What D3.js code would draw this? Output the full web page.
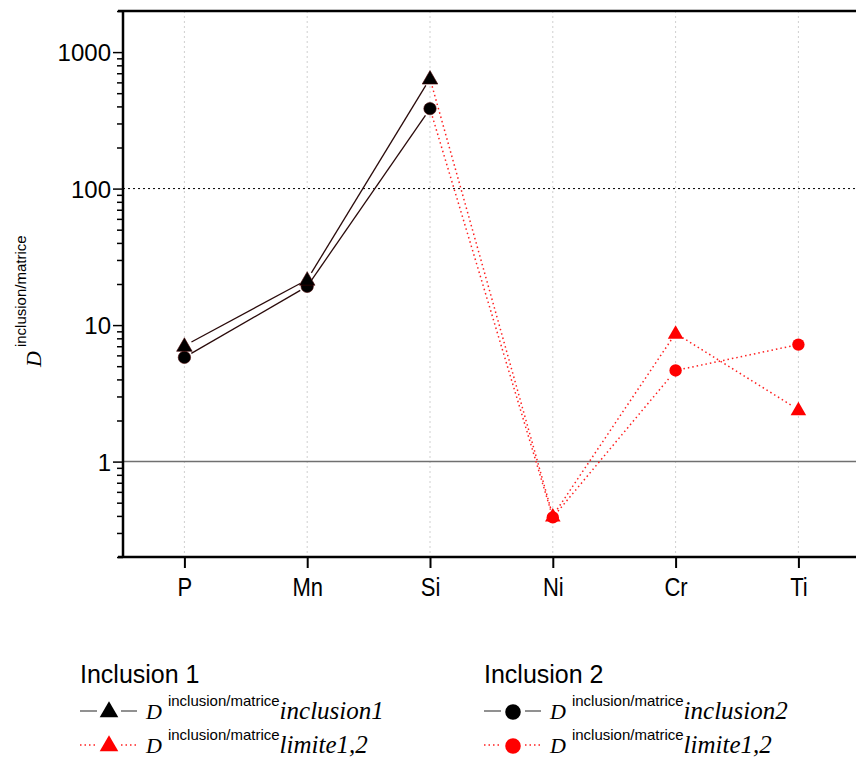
<!DOCTYPE html>
<html><head><meta charset="utf-8">
<script src="https://cdn.jsdelivr.net/npm/d3@7"></script>
<style>body{margin:0;background:#fff}svg{display:block}</style>
</head><body>
<script>
const categories = ["P","Mn","Si","Ni","Cr","Ti"];
const inclusion1 = [7.05, 21.5, 640, 0.40, 8.7, 2.4];
const inclusion2 = [5.8, 19.2, 385, 0.39, 4.65, 7.2];
const measuredCount = 3; // P, Mn, Si measured; Si..Ti limits
const yTicks = [1, 10, 100, 1000];
const yDomain = [0.2, 2000];

(function(){
const W = 856, H = 760;
const svg = d3.select("body").append("svg").attr("width", W).attr("height", H);
const left = 123, topY = 11, bottom = 557;
const step = 122.8;
const x = d3.scalePoint().domain(categories).range([left + step/2, left + step*5.5]);
const y = d3.scaleLog().domain(yDomain).range([bottom, topY]);
const SANS = "Liberation Sans, Arial, sans-serif", SERIF = "Liberation Serif, Times New Roman, serif";

// vertical grid
svg.append("g").selectAll("line").data(categories).join("line")
  .attr("x1", d => x(d)).attr("x2", d => x(d)).attr("y1", topY).attr("y2", bottom)
  .attr("stroke", "#cfcfcf").attr("stroke-width", 1).attr("stroke-dasharray", "2,3");

// reference lines
svg.append("line").attr("x1", left).attr("x2", W).attr("y1", y(100)).attr("y2", y(100))
  .attr("stroke", "#000").attr("stroke-width", 1).attr("stroke-dasharray", "2,3");
svg.append("line").attr("x1", left).attr("x2", W).attr("y1", y(1)).attr("y2", y(1))
  .attr("stroke", "#707070").attr("stroke-width", 1.5);

// axes
const minor = [];
for (let e = -1; e <= 3; e++) for (let m = 2; m <= 9; m++) { const v = m * Math.pow(10, e); if (v >= yDomain[0] && v <= yDomain[1]) minor.push(v); }
const gm = svg.append("g").attr("transform", `translate(${left},0)`)
  .call(d3.axisLeft(y).tickValues(minor).tickSize(6).tickFormat(""));
gm.select(".domain").remove();
gm.selectAll("line").attr("stroke-width", 1.5);
const gy = svg.append("g").attr("transform", `translate(${left},0)`)
  .call(d3.axisLeft(y).tickValues(yTicks).tickSize(10).tickPadding(2).tickFormat(d3.format("d")));
gy.select(".domain").remove();
gy.selectAll("line").attr("stroke-width", 1.5);
gy.selectAll("text").attr("font-family", SANS).attr("font-size", 24).attr("fill", "#000").attr("dy", "0.36em");

const gx = svg.append("g").attr("transform", `translate(0,${bottom})`)
  .call(d3.axisBottom(x).tickSize(11).tickPadding(8));
gx.select(".domain").remove();
gx.selectAll("line").attr("stroke-width", 2);
gx.selectAll("text").attr("font-family", SANS).attr("font-size", 25).attr("fill", "#000")
  .attr("y", 39).attr("dy", 0).attr("transform", "scale(0.88,1)");

// spines
svg.append("line").attr("x1", left).attr("x2", left).attr("y1", topY - 1).attr("y2", bottom + 1).attr("stroke", "#000").attr("stroke-width", 2.5);
svg.append("line").attr("x1", left - 5).attr("x2", W).attr("y1", bottom).attr("y2", bottom).attr("stroke", "#000").attr("stroke-width", 2.5);
svg.append("line").attr("x1", left - 5).attr("x2", W).attr("y1", topY).attr("y2", topY).attr("stroke", "#000").attr("stroke-width", 2.5);

// lines (with a small gap at each marker, as in the original)
const gap = 8;
const line = d3.line();
function seriesData(vals){ return categories.map((c,i)=>({c, v: vals[i], i})); }
function gappedSegments(pts){
  const segs = [];
  for (let k = 0; k < pts.length - 1; k++) {
    const a = [x(pts[k].c), y(pts[k].v)], b = [x(pts[k+1].c), y(pts[k+1].v)];
    const dx = b[0]-a[0], dy = b[1]-a[1], L = Math.hypot(dx, dy);
    const ux = dx/L, uy = dy/L;
    segs.push([[a[0]+ux*gap, a[1]+uy*gap], [b[0]-ux*gap, b[1]-uy*gap]]);
  }
  return segs;
}
[inclusion1, inclusion2].forEach(vals => {
  const d = seriesData(vals);
  svg.append("g").selectAll("path").data(gappedSegments(d.slice(measuredCount - 1))).join("path")
    .attr("d", line).attr("fill", "none")
    .attr("stroke", "#ff2020").attr("stroke-width", 1.5).attr("stroke-dasharray", "1.5,3");
  svg.append("g").selectAll("path").data(gappedSegments(d.slice(0, measuredCount))).join("path")
    .attr("d", line).attr("fill", "none")
    .attr("stroke", "#2a0a0a").attr("stroke-width", 1.3);
});

const tri = d3.symbol().type(d3.symbolTriangle).size(105);
const circ = d3.symbol().type(d3.symbolCircle).size(120);
function markerColor(i){ return i < measuredCount ? "#000" : "#ff0000"; }
svg.append("g").selectAll("path").data(seriesData(inclusion2)).join("path")
  .attr("d", circ).attr("transform", d => `translate(${x(d.c)},${y(d.v)})`)
  .attr("fill", d => markerColor(d.i)).attr("stroke", d => d.i < measuredCount ? "#400" : "none").attr("stroke-width", 0.6);
svg.append("g").selectAll("path").data(seriesData(inclusion1)).join("path")
  .attr("d", tri).attr("transform", d => `translate(${x(d.c)},${y(d.v) + 1})`)
  .attr("fill", d => markerColor(d.i)).attr("stroke", d => d.i < measuredCount ? "#400" : "none").attr("stroke-width", 0.6);

// y label
const ylab = svg.append("text").attr("transform", "translate(41,367) rotate(-90)").attr("fill", "#000");
ylab.append("tspan").text("D").attr("font-family", SERIF).attr("font-style", "italic").attr("font-size", 22);
ylab.append("tspan").text("inclusion/matrice").attr("font-family", SANS).attr("font-size", 15).attr("dy", -15).attr("dx", 4);

// legend
const triL = d3.symbol().type(d3.symbolTriangle).size(150);
const circL = d3.symbol().type(d3.symbolCircle).size(190);
function legendBlock(x0, title, shape, sub){
  svg.append("text").attr("x", x0).attr("y", 683).text(title)
    .attr("font-family", SANS).attr("font-size", 25).attr("fill", "#000");
  const rows = [{y: 711, col: "#000", dash: null, sw: 1.3, lc: "#555", name: sub},
                {y: 745, col: "#ff0000", dash: "1.5,3", sw: 1.5, lc: "#ff2020", name: "limite1,2"}];
  rows.forEach(r => {
    [[x0, x0 + 17], [x0 + 41, x0 + 57]].forEach(s => {
      svg.append("line").attr("x1", s[0]).attr("x2", s[1]).attr("y1", r.y).attr("y2", r.y)
        .attr("stroke", r.lc).attr("stroke-width", r.sw).attr("stroke-dasharray", r.dash);
    });
    svg.append("path").attr("d", shape).attr("transform", `translate(${x0 + 29},${r.y + 1})`).attr("fill", r.col);
    const t = svg.append("text").attr("x", x0 + 66).attr("y", r.y + 8).attr("fill", "#000");
    t.append("tspan").text("D").attr("font-family", SERIF).attr("font-style", "italic").attr("font-size", 22);
    t.append("tspan").text("inclusion/matrice").attr("font-family", SANS).attr("font-size", 15).attr("dy", -13).attr("dx", 6);
    t.append("tspan").text(r.name).attr("font-family", SERIF).attr("font-style", "italic").attr("font-size", 25).attr("dy", 13);
  });
}
legendBlock(80, "Inclusion 1", triL, "inclusion1");
legendBlock(484, "Inclusion 2", circL, "inclusion2");
})();
</script>
</body></html>
